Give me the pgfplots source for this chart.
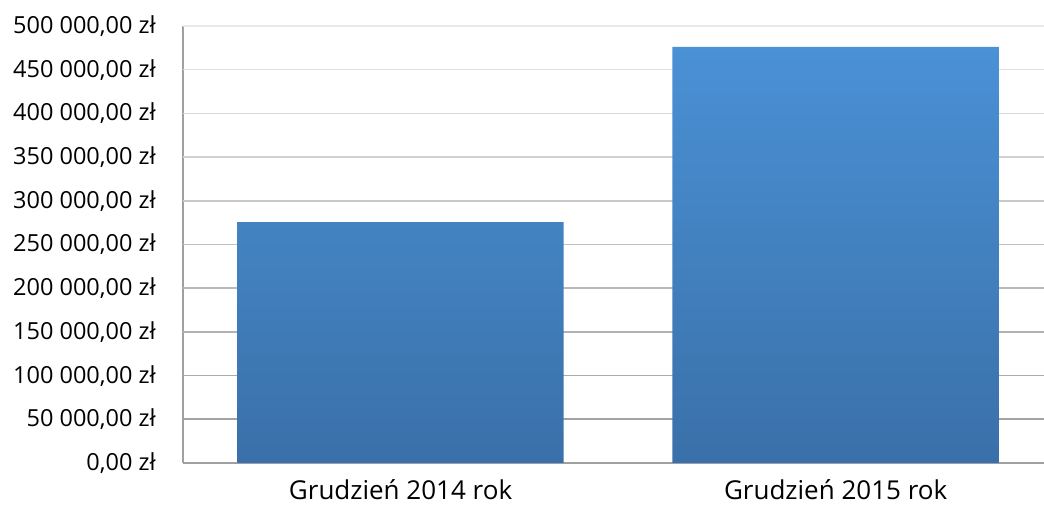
\documentclass[border=0pt]{standalone}
\usepackage{pgfplots}
\pgfplotsset{compat=1.18}
\usepackage{fontspec}
\setmainfont{Open Sans}
\definecolor{axisgray}{HTML}{A0A0A0}
\definecolor{bartop}{HTML}{4A91D5}
\definecolor{barbot}{HTML}{3A70A9}
\begin{document}
\begin{tikzpicture}
\begin{axis}[
  scale only axis,
  width=861pt, height=437pt,
  xmin=-0.5, xmax=1.479,
  ymin=0, ymax=500000,
  axis x line*=bottom, axis y line*=left,
  axis line style={axisgray, line width=1.5pt},
  xtick={0,1},
  xticklabels={Grudzień 2014 rok, Grudzień 2015 rok},
  ytick={0,50000,100000,150000,200000,250000,300000,350000,400000,450000,500000},
  yticklabels={{0,00 zł},{50 000,00 zł},{100 000,00 zł},{150 000,00 zł},{200 000,00 zł},{250 000,00 zł},{300 000,00 zł},{350 000,00 zł},{400 000,00 zł},{450 000,00 zł},{500 000,00 zł}},
  major tick length=0pt,
  tick style={draw=none},
  scaled y ticks=false,
  yticklabel style={font=\fontsize{23.5}{28}\selectfont, anchor=east, inner sep=0pt, xshift=-27pt},
  xticklabel style={font=\fontsize{26}{30}\selectfont, anchor=base, inner sep=0pt, yshift=-37pt},
]
\addplot[draw=black!36, line width=1.6pt, forget plot] coordinates {(-0.5,50000) (1.479,50000)};
\addplot[draw=black!33, line width=1.6pt, forget plot] coordinates {(-0.5,100000) (1.479,100000)};
\addplot[draw=black!30, line width=1.6pt, forget plot] coordinates {(-0.5,150000) (1.479,150000)};
\addplot[draw=black!27, line width=1.6pt, forget plot] coordinates {(-0.5,200000) (1.479,200000)};
\addplot[draw=black!24, line width=1.6pt, forget plot] coordinates {(-0.5,250000) (1.479,250000)};
\addplot[draw=black!21, line width=1.6pt, forget plot] coordinates {(-0.5,300000) (1.479,300000)};
\addplot[draw=black!18, line width=1.6pt, forget plot] coordinates {(-0.5,350000) (1.479,350000)};
\addplot[draw=black!15, line width=1.6pt, forget plot] coordinates {(-0.5,400000) (1.479,400000)};
\addplot[draw=black!12, line width=1.6pt, forget plot] coordinates {(-0.5,450000) (1.479,450000)};
\addplot[draw=black!9, line width=1.6pt, forget plot] coordinates {(-0.5,500000) (1.479,500000)};
\addplot[ybar, bar width=0.75, draw=none, top color=bartop, bottom color=barbot, shading=axis]
  coordinates {(0,275500) (1,476000)};
\end{axis}
\pgfresetboundingbox
\path (-183pt,-42pt) rectangle (861pt,463pt);
\end{tikzpicture}
\end{document}
